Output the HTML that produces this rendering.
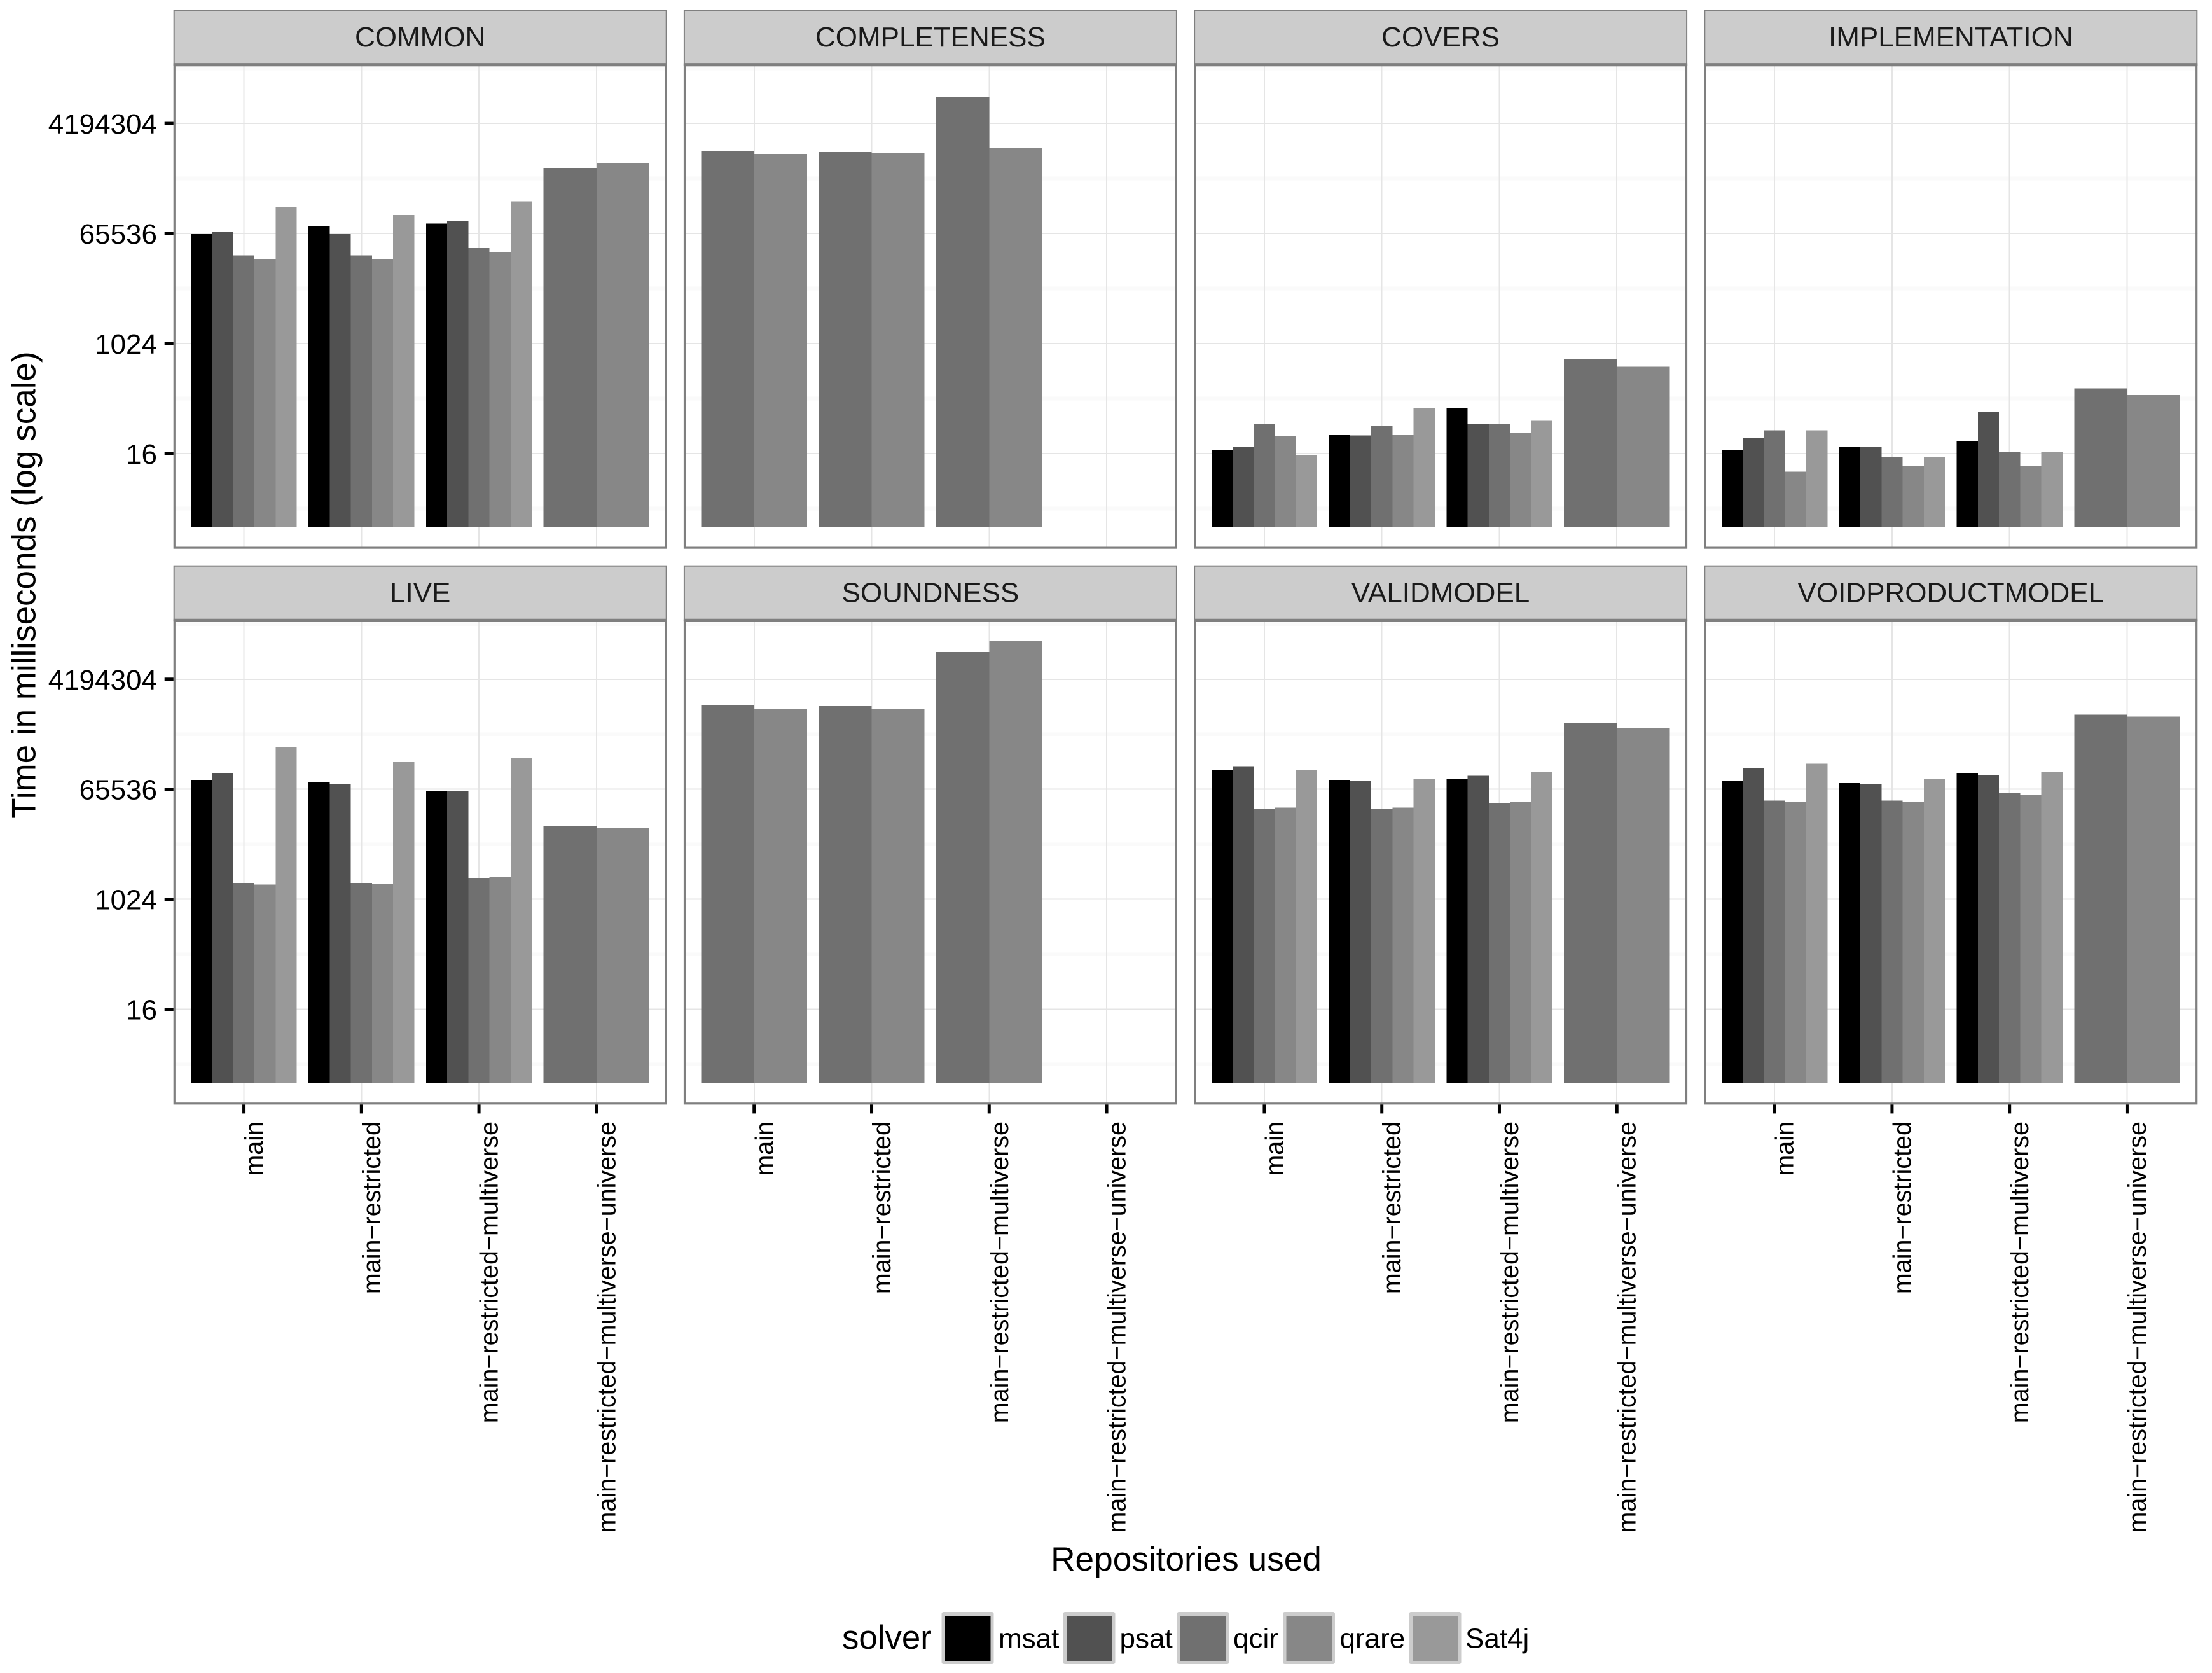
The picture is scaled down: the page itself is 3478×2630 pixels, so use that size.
<!DOCTYPE html>
<html lang="en">
<head>
<meta charset="utf-8">
<title>Time in milliseconds by repositories used</title>
<style>
  html, body { margin: 0; padding: 0; background: #fff; }
  svg { display: block; font-family: "Liberation Sans", Arial, sans-serif; }
  .crisp { shape-rendering: crispEdges; }
</style>
</head>
<body>
<svg id="chart" xmlns="http://www.w3.org/2000/svg" width="3478" height="2630" viewBox="0 0 3478 2630">
  <rect x="0" y="0" width="3478" height="2630" fill="#ffffff"/>
  <g id="panels"></g>
  <text transform="translate(55.7 919.5) rotate(-90)" text-anchor="middle" font-size="53" fill="#000">Time in milliseconds (log scale)</text>
  <text x="1865" y="2469" text-anchor="middle" font-size="53.2" fill="#000">Repositories used</text>
  <g>
    <text x="1324" y="2592" font-size="52.8" fill="#000">solver</text>
    <g id="legend-items"></g>
  </g>
</svg>
<script>
const categories = ["main", "main\u2212restricted", "main\u2212restricted\u2212multiverse", "main\u2212restricted\u2212multiverse\u2212universe"];
const solvers = ["msat", "psat", "qcir", "qrare", "Sat4j"];
const solverColors = ["#000000", "#515151", "#707070", "#878787", "#999999"];
const yTicks = [16, 1024, 65536, 4194304];
const yMinorTicks = [2, 128, 8192, 524288, 33554432];
const panelNames = ["COMMON", "COMPLETENESS", "COVERS", "IMPLEMENTATION", "LIVE", "SOUNDNESS", "VALIDMODEL", "VOIDPRODUCTMODEL"];

// Each row: one repository set; columns follow the solvers array. null = no bar.
const commonTimes = [
  [64200, 68800, 28700, 25000, 180200],
  [85800, 64200, 28700, 25000, 131072],
  [95300, 103500, 37900, 32500, 221900],
  [null, null, 778500, 944800, null]
];
const completenessTimes = [
  [null, null, 1452800, 1318000, null],
  [null, null, 1432000, 1393000, null],
  [null, null, 11456000, 1645000, null],
  [null, null, null, null, null]
];
const coversTimes = [
  [18.1, 20.3, 48.2, 30.6, 15.1],
  [32, 31.6, 44.9, 32, 89.9],
  [89.9, 49.5, 48.2, 35, 55.3],
  [null, null, 572, 428, null]
];
const implementationTimes = [
  [18.1, 28.6, 38.6, 8.1, 38.6],
  [20.3, 20.3, 14.1, 10.1, 14.1],
  [25.3, 78.2, 17.1, 10.1, 17.1],
  [null, null, 188.7, 146, null]
];
const liveTimes = [
  [93300, 121500, 1898, 1795, 318300],
  [87100, 81200, 1898, 1846, 184100],
  [60700, 62400, 2242, 2369, 211500],
  [null, null, 16160, 15080, null]
];
const soundnessTimes = [
  [null, null, 1556600, 1355200, null],
  [null, null, 1514000, 1355200, null],
  [null, null, 11700000, 17733000, null],
  [null, null, null, null, null]
];
const validmodelTimes = [
  [137600, 155900, 31010, 32768, 137600],
  [93300, 90800, 31010, 32768, 98600],
  [95950, 108700, 38970, 41190, 128400],
  [null, null, 794700, 654500, null]
];
const voidproductmodelTimes = [
  [90800, 147500, 42940, 40060, 171800],
  [82400, 81200, 42940, 40060, 95950],
  [121500, 113300, 56660, 53600, 124900],
  [null, null, 1093000, 1019900, null]
];
const panelTimes = [commonTimes, completenessTimes, coversTimes, implementationTimes, liveTimes, soundnessTimes, validmodelTimes, voidproductmodelTimes];

const NS = "http://www.w3.org/2000/svg";
const PANEL_W = 776, PANEL_X0 = 272.7, PANEL_PITCH_X = 802.2;
const ROW_PITCH = 873.7, STRIP_TOP = 15, STRIP_BOTTOM = 102.7, PANEL_BOTTOM = 862.7;
const Y_16 = 713, PX_PER_LOG2 = 28.83;
const BAR_SPAN = 0.9;
const slug = s => s.toLowerCase().replace(/[^a-z0-9]+/g, "-");

function make(tag, attrs, parent, text) {
  const node = document.createElementNS(NS, tag);
  for (const key in attrs) node.setAttribute(key, attrs[key]);
  if (text !== undefined) node.textContent = text;
  parent.appendChild(node);
  return node;
}

function yScale(value, row) {
  return Y_16 + row * ROW_PITCH - (Math.log2(value) - 4) * PX_PER_LOG2;
}
function xStep() {
  return PANEL_W / (categories.length - 1 + 1.2);
}
function xScale(index, col) {
  return PANEL_X0 + col * PANEL_PITCH_X + xStep() * (0.6 + index);
}

const panelsRoot = document.getElementById("panels");

panelNames.forEach((name, p) => {
  const col = p % 4, row = Math.floor(p / 4);
  const left = PANEL_X0 + col * PANEL_PITCH_X;
  const top = STRIP_BOTTOM + row * ROW_PITCH;
  const bottom = PANEL_BOTTOM + row * ROW_PITCH;
  const stripTop = STRIP_TOP + row * ROW_PITCH;

  const g = make("g", {}, panelsRoot);
  
  

  const bg = make("rect", { x: left, y: top, width: PANEL_W, height: bottom - top, fill: "#ffffff" }, g);
  
  

  yMinorTicks.forEach(v => {
    const yv = yScale(v, row);
    const minor = make("line", { x1: left, x2: left + PANEL_W, y1: yv, y2: yv, stroke: "#fafafa", "stroke-width": 5.8 }, g);
    minor.setAttribute("class", "crisp");
    
    
  });
  yTicks.forEach(v => {
    const yv = yScale(v, row);
    const major = make("line", { x1: left, x2: left + PANEL_W, y1: yv, y2: yv, stroke: "#e5e5e5", "stroke-width": 2 }, g);
    major.setAttribute("class", "crisp");
    
    
  });
  categories.forEach((c, i) => {
    const xv = xScale(i, col);
    const vert = make("line", { x1: xv, x2: xv, y1: top, y2: bottom, stroke: "#e5e5e5", "stroke-width": 2 }, g);
    vert.setAttribute("class", "crisp");
    
    
  });

  const times = panelTimes[p];
  const barBaseline = yScale(1, row);
  times.forEach((groupValues, i) => {
    const present = solvers.map((s, k) => k).filter(k => groupValues[k] !== null);
    const w = xStep() * BAR_SPAN / Math.max(present.length, 1);
    const start = xScale(i, col) - xStep() * BAR_SPAN / 2;
    present.forEach((k, pos) => {
      const yTop = yScale(groupValues[k], row);
      const bar = make("rect", { x: start + pos * w, y: yTop, width: w, height: barBaseline - yTop, fill: solverColors[k] }, g);
      bar.setAttribute("class", "crisp");
      
      
    });
  });

  const border = make("rect", { x: left + 1.6, y: top, width: PANEL_W - 3.2, height: bottom - top - 1.6, fill: "none", stroke: "#7f7f7f", "stroke-width": 3.2 }, g);
  
  

  const strip = make("rect", { x: left + 1, y: stripTop + 1, width: PANEL_W - 2, height: top - stripTop - 1, fill: "#cccccc", stroke: "#7f7f7f", "stroke-width": 2 }, g);
  
  

  const stripLine = make("line", { x1: left, x2: left + PANEL_W, y1: top - 1.8, y2: top - 1.8, stroke: "#7f7f7f", "stroke-width": 3.6 }, g);
  
  

  const stripLabel = make("text", { x: left + PANEL_W / 2, y: stripTop + 58, "text-anchor": "middle", "font-size": 44, fill: "#1a1a1a" }, g, name);
  
  

  if (col === 0) {
    yTicks.forEach(v => {
      const yv = yScale(v, row);
      const tick = make("rect", { x: left - 14, y: yv - 2.5, width: 14, height: 5, fill: "#000000" }, g);
      
      
      const label = make("text", { x: 247, y: yv + 16, "text-anchor": "end", "font-size": 44, fill: "#000000" }, g, String(v));
      
      
    });
  }
  if (row === 1) {
    categories.forEach((c, i) => {
      const xv = xScale(i, col);
      const tick = make("rect", { x: xv - 2.5, y: bottom, width: 5, height: 14, fill: "#000000" }, g);
      
      
      const label = make("text", { transform: "translate(" + (xv + 29.5) + " 1763) rotate(-90)", "text-anchor": "end", "font-size": 39.5, fill: "#000000" }, g, c);
      
      
    });
  }
});

const legendKeyLefts = [1480.5, 1671.5, 1850.5, 2017, 2215.5];
const legendLabelLefts = [1570, 1760.5, 1939, 2106.5, 2304];
const legendRoot = document.getElementById("legend-items");
solvers.forEach((s, i) => {
  const item = make("g", {}, legendRoot);
  
  
  const keyBox = make("rect", { x: legendKeyLefts[i], y: 2534, width: 82, height: 82, rx: 3, fill: "#cccccc" }, item);
  
  
  const keyFill = make("rect", { x: legendKeyLefts[i] + 5.5, y: 2540, width: 71.5, height: 71, fill: solverColors[i] }, item);
  
  
  const keyLabel = make("text", { x: legendLabelLefts[i], y: 2590.7, "font-size": 44, fill: "#000000" }, item, s);
  
  
});
</script>
</body>
</html>
